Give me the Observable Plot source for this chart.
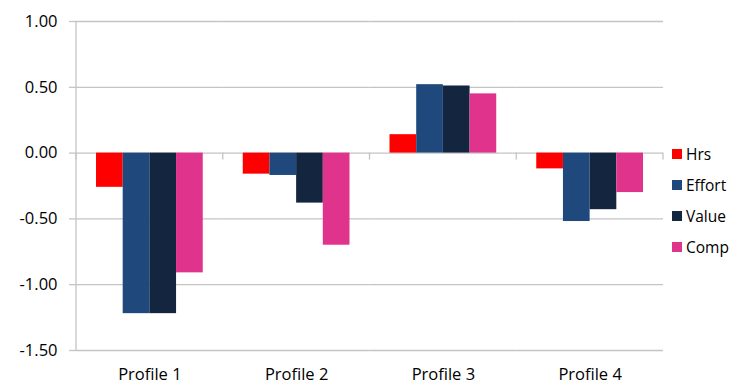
<!DOCTYPE html>
<html><head><meta charset="utf-8">
<script src="https://cdn.jsdelivr.net/npm/d3@7"></script>
<script src="https://cdn.jsdelivr.net/npm/@observablehq/plot@0.6"></script>
<style>
body{margin:0;background:#fff;}
#wrap{position:relative;width:729px;height:385px;font-family:"Open Sans",sans-serif;}
#legend{position:absolute;left:672px;top:138px;font-size:15.5px;color:#000;}
.item{display:flex;align-items:center;height:31px;}
.sw{width:10px;height:10px;margin-right:4px;}
.item span{line-height:20px;}
</style></head><body><div id="wrap"><div id="legend"></div></div>
<script>
const profiles = ["Profile 1", "Profile 2", "Profile 3", "Profile 4"];
const seriesNames = ["Hrs", "Effort", "Value", "Comp"];
const hrs = [-0.26, -0.16, 0.14, -0.12];
const effort = [-1.22, -0.17, 0.52, -0.52];
const value = [-1.22, -0.38, 0.51, -0.43];
const comp = [-0.91, -0.70, 0.45, -0.30];
const colors = ["#ff0000", "#1f497d", "#14253f", "#e0338b"];
const yTicks = [1, 0.5, 0, -0.5, -1, -1.5];

const table = [];
[hrs, effort, value, comp].forEach((arr, si) =>
  arr.forEach((v, pi) => table.push({profile: profiles[pi], series: seriesNames[si], value: v})));

const grid = "#c4c4c4";
const chart = Plot.plot({
  width: 729, height: 385,
  marginLeft: 76, marginRight: 66, marginTop: 21, marginBottom: 35,
  style: {fontFamily: "'Open Sans', sans-serif", fontSize: "16px", color: "#000", background: "#fff"},
  fx: {domain: profiles, paddingInner: 0, paddingOuter: 0, round: false, label: null},
  x: {domain: seriesNames, paddingInner: 0, paddingOuter: 0.75, round: false, axis: null},
  y: {domain: [-1.5, 1], label: null},
  color: {domain: seriesNames, range: colors},
  marks: [
    Plot.ruleY(yTicks, {stroke: grid, strokeWidth: 1.3}),
    Plot.barY(table, {fx: "profile", x: "series", y: "value", fill: "series"}),
    Plot.axisY(yTicks, {tickSize: 7, stroke: grid, strokeWidth: 1.3, text: null}),
    Plot.axisY(yTicks, {tickSize: 0, tickPadding: 19, fontSize: 16.5, tickFormat: d => d.toFixed(2), fill: "#000"}),
    Plot.axisFx({anchor: "bottom", tickSize: 0, tickPadding: 18, fontSize: 16.5, label: null, fill: "#000"})
  ]
});
document.getElementById("wrap").prepend(chart);

// y-axis line and category boundary ticks at zero, placed via the chart's scales
const fxs = chart.scale("fx");
const ys = chart.scale("y");
const yl = d3.scaleLinear(ys.domain, ys.range);
const x0 = fxs.range[0], x1 = fxs.range[1];
const step = (x1 - x0) / profiles.length;
const svg = d3.select(chart);
svg.append("line").attr("x1", x0).attr("x2", x0).attr("y1", yl(1)).attr("y2", yl(-1.5))
  .attr("stroke", grid).attr("stroke-width", 1.3);
for (let i = 0; i <= profiles.length; i++) {
  const x = x0 + i * step;
  svg.append("line").attr("x1", x).attr("x2", x).attr("y1", yl(0)).attr("y2", yl(0) + 7)
    .attr("stroke", grid).attr("stroke-width", 1.3);
}

const legend = d3.select("#legend");
seriesNames.forEach((s, i) => {
  const it = legend.append("div").attr("class", "item");
  it.append("div").attr("class", "sw").style("background", colors[i]);
  it.append("span").text(s);
});
</script></body></html>
